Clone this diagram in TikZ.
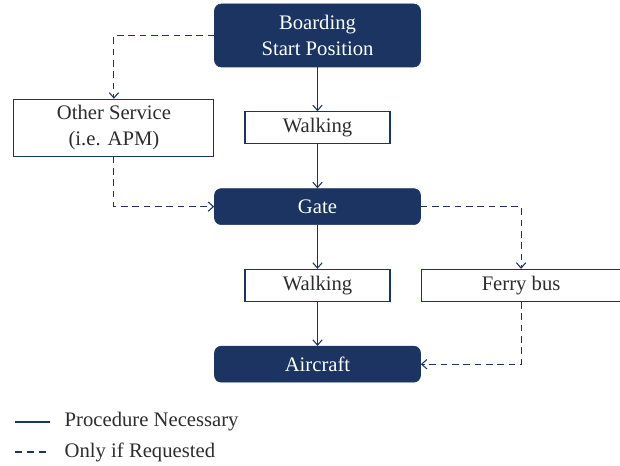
\documentclass[tikz,border=0pt]{standalone}
\usepackage{fontspec}
\setmainfont{Liberation Serif}
\usepackage{tikz}
\usetikzlibrary{positioning, arrows.meta}
\definecolor{navy}{RGB}{27,52,97}
\definecolor{textgray}{RGB}{45,45,45}

\begin{document}
\begin{tikzpicture}[
  x=0.75pt, y=-0.75pt,
  node distance=33pt and 22.5pt,
  every node/.style={align=center, font=\fontsize{15.5pt}{19.5pt}\selectfont},
  milestone/.style={rectangle, rounded corners=5pt, fill=navy, draw=navy,
                    text=white, minimum width=154.5pt, inner sep=0pt},
  procedure/.style={rectangle, draw=navy, line width=0.8pt, fill=white,
                    text=textgray, minimum height=24pt, inner sep=0pt},
  legendtext/.style={anchor=west, text=textgray},
  arrow/.style={-{Straight Barb[length=4pt, width=7pt]}, draw=navy, line width=0.8pt},
  optional/.style={arrow, dash pattern=on 5pt off 3.5pt}
]
\useasboundingbox (0,0) rectangle (620,466);

% ---- Main chain ----
\node (start)  [milestone, minimum height=47.25pt] at (317.5,35.5)
  {Boarding\\Start Position};
\node (walk1)  [procedure, minimum width=108.75pt, below=of start] {Walking};
\node (gate)   [milestone, minimum height=27pt, below=of walk1] {Gate};
\node (walk2)  [procedure, minimum width=108.75pt, below=of gate] {Walking};
\node (plane)  [milestone, minimum height=27pt, below=of walk2] {Aircraft};

% ---- Optional services ----
\node (apm)    [procedure, minimum width=150pt, minimum height=42.75pt,
                left=of walk1] {Other Service\\(i.e. APM)};
\node (ferry)  [procedure, minimum width=150pt, right=of walk2] {Ferry bus};

% ---- Arrows ----
\draw [arrow] (start) -- (walk1);
\draw [arrow] (walk1) -- (gate);
\draw [arrow] (gate)  -- (walk2);
\draw [arrow] (walk2) -- (plane);
\draw [optional] (start.west) -| (apm.north);
\draw [optional] (apm.south) |- (gate.west);
\draw [optional] (gate.east) -| (ferry.north);
\draw [optional] (ferry.south) |- (plane.east);

% ---- Legend ----
\node (legnec) [legendtext] at (60,422) {Procedure Necessary};
\node (legreq) [legendtext] at (60,452) {Only if Requested};
\coordinate (necstart) at (15,422);
\coordinate (reqstart) at (15,452);
\draw [draw=navy, line width=0.8pt] (necstart) -- ++(35,0);
\draw [draw=navy, line width=0.8pt, dash pattern=on 5pt off 4pt] (reqstart) -- ++(35,0);
\end{tikzpicture}
\end{document}
